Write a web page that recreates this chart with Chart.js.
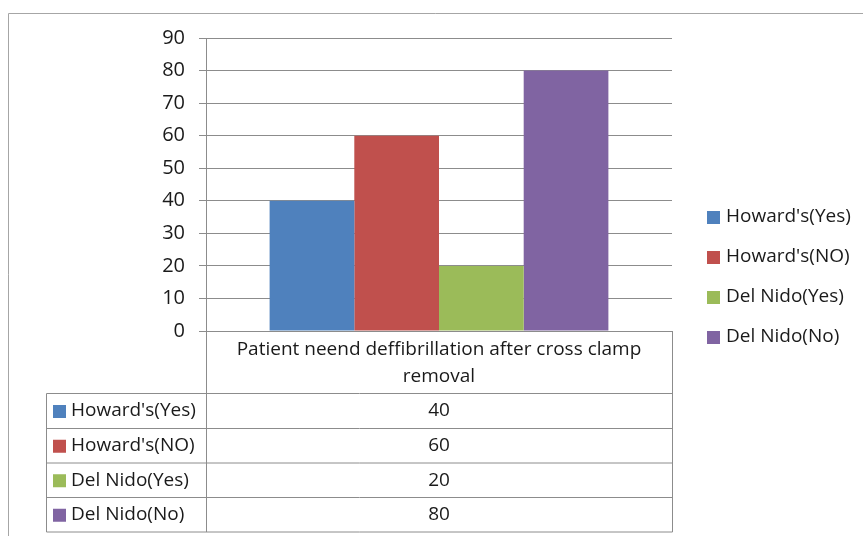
<!DOCTYPE html>
<html>
<head>
<meta charset="utf-8">
<script src="https://cdn.jsdelivr.net/npm/chart.js@4/dist/chart.umd.min.js"></script>
<style>
  html, body { margin: 0; padding: 0; background: #fff; }
  #wrap { width: 863px; height: 536px; position: relative; }
</style>
</head>
<body>
<div id="wrap"><canvas id="myChart" width="863" height="536"></canvas></div>
<script>
const categories = ["Patient neend deffibrillation after cross clamp removal"];
const categoryLines = ["Patient neend deffibrillation after cross clamp", "removal"];
const seriesNames = ["Howard's(Yes)", "Howard's(NO)", "Del Nido(Yes)", "Del Nido(No)"];
const seriesValues = [[40], [60], [20], [80]];
const seriesColors = ["#4f81bd", "#c0504d", "#9bbb59", "#8064a2"];
const yTicks = [0, 10, 20, 30, 40, 50, 60, 70, 80, 90];

const FONT = "'Open Sans', 'Noto Sans', sans-serif";
const LINE = "#8c8c8c";

// legend on the right + data table under the plot
const extras = {
  id: "extras",
  afterDraw(chart) {
    const ctx = chart.ctx;
    const area = chart.chartArea;
    ctx.save();

    // outer frame
    ctx.strokeStyle = "#a6a6a6";
    ctx.lineWidth = 1;
    ctx.beginPath();
    ctx.moveTo(8.5, 536);
    ctx.lineTo(8.5, 13.5);
    ctx.lineTo(863, 13.5);
    ctx.stroke();

    // legend
    ctx.font = "19px " + FONT;
    ctx.textBaseline = "middle";
    ctx.textAlign = "left";
    seriesNames.forEach((name, i) => {
      const y = 217 + i * 40;
      ctx.fillStyle = seriesColors[i];
      ctx.fillRect(707, y - 6, 13, 13);
      ctx.fillStyle = "#1a1a1a";
      ctx.fillText(name, 726, y);
    });

    // data table
    const left = 46.5, mid = area.left + 0.5, right = area.right + 0.5;
    const rowTops = [393.5, 428.5, 463, 497.5, 532];
    ctx.strokeStyle = LINE;
    ctx.beginPath();
    ctx.moveTo(mid, area.bottom); ctx.lineTo(mid, rowTops[4]);
    ctx.moveTo(right, area.bottom); ctx.lineTo(right, rowTops[4]);
    ctx.moveTo(left, rowTops[0]); ctx.lineTo(left, rowTops[4]);
    rowTops.forEach(y => { ctx.moveTo(left, y); ctx.lineTo(right, y); });
    ctx.stroke();

    // category label
    ctx.fillStyle = "#1a1a1a";
    ctx.textAlign = "center";
    const cx = (area.left + area.right) / 2;
    categoryLines.forEach((t, i) => ctx.fillText(t, cx, 350 + i * 27));

    // rows
    seriesNames.forEach((name, i) => {
      const y = (rowTops[i] + rowTops[i + 1]) / 2;
      ctx.fillStyle = seriesColors[i];
      ctx.fillRect(53, y - 6, 13, 13);
      ctx.fillStyle = "#1a1a1a";
      ctx.textAlign = "left";
      ctx.fillText(name, 71, y);
      ctx.textAlign = "center";
      ctx.fillText(String(seriesValues[i][0]), cx, y);
    });
    ctx.restore();
  }
};

new Chart("myChart", {
  type: "bar",
  data: {
    labels: categories,
    datasets: seriesNames.map((name, i) => ({
      label: name,
      data: seriesValues[i],
      backgroundColor: seriesColors[i],
      borderWidth: 0,
      barPercentage: 1,
      categoryPercentage: 0.727
    }))
  },
  options: {
    responsive: false,
    animation: false,
    layout: { padding: { top: 38, right: 191, bottom: 205, left: 0 } },
    plugins: { legend: { display: false }, tooltip: { enabled: false } },
    scales: {
      x: { display: false },
      y: {
        min: 0,
        max: 90,
        afterFit(scale) { scale.width = 206; },
        afterBuildTicks(scale) { scale.ticks = yTicks.map(v => ({ value: v })); },
        ticks: { color: "#1a1a1a", font: { size: 20, family: FONT }, padding: 14 },
        grid: { color: LINE, tickLength: 7, tickColor: LINE },
        border: { color: LINE }
      }
    }
  },
  plugins: [extras]
});
</script>
</body>
</html>
